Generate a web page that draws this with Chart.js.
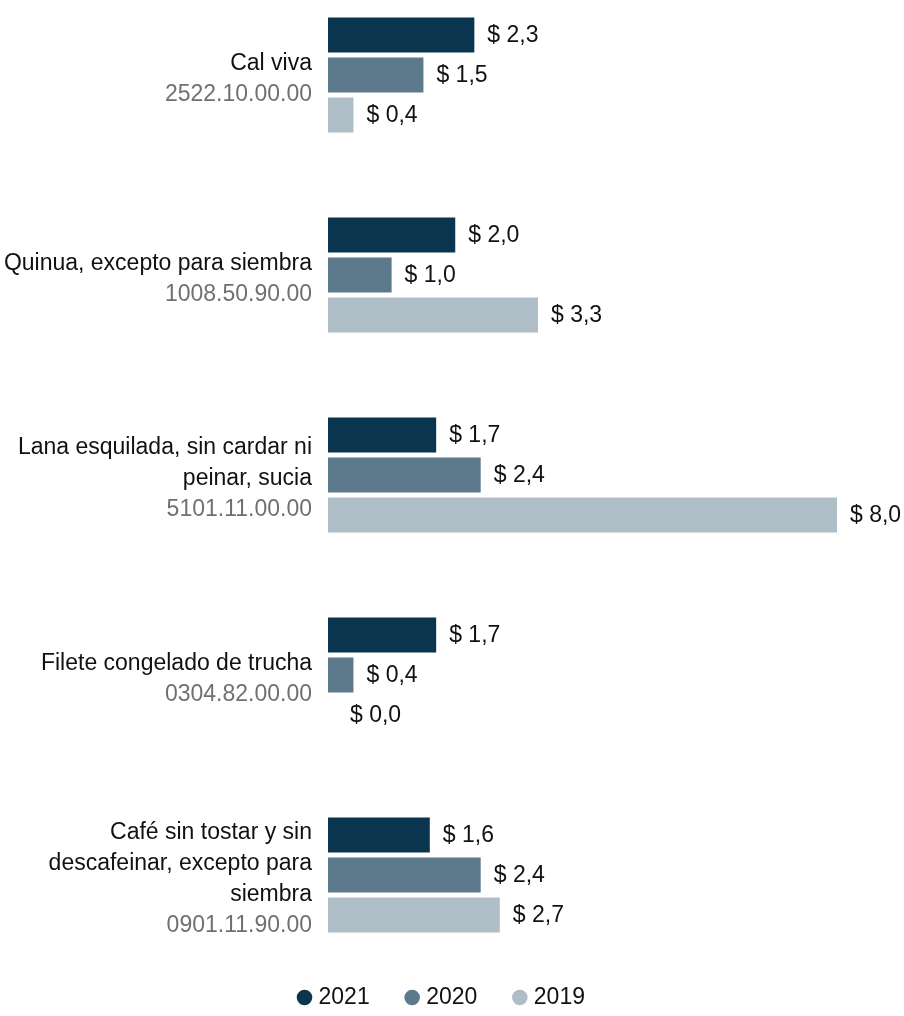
<!DOCTYPE html>
<html>
<head>
<meta charset="utf-8">
<script src="https://cdn.jsdelivr.net/npm/chart.js@4"></script>
<style>
  html, body { margin: 0; padding: 0; background: #ffffff; }
  #wrap { width: 904px; height: 1016px; }
</style>
</head>
<body>
<div id="wrap"><canvas id="c" width="904" height="1016"></canvas></div>
<script>
const categoryNames = [
  ['Cal viva'],
  ['Quinua, excepto para siembra'],
  ['Lana esquilada, sin cardar ni', 'peinar, sucia'],
  ['Filete congelado de trucha'],
  ['Café sin tostar y sin', 'descafeinar, excepto para', 'siembra']
];
const categoryCodes = ['2522.10.00.00', '1008.50.90.00', '5101.11.00.00', '0304.82.00.00', '0901.11.90.00'];
const seriesLabels = ['2021', '2020', '2019'];
const values2021 = [2.3, 2.0, 1.7, 1.7, 1.6];
const values2020 = [1.5, 1.0, 2.4, 0.4, 2.4];
const values2019 = [0.4, 3.3, 8.0, 0.0, 2.7];

const FONT = '"Liberation Sans", Arial, Helvetica, sans-serif';
const FS = 23;
const colors = ['#0b344f', '#5d7a8c', '#afbdc7'];

function fmt(v) { return '$ ' + v.toFixed(1).replace('.', ','); }

const labelsPlugin = {
  id: 'customLabels',
  afterDatasetsDraw(chart) {
    const ctx = chart.ctx;
    const y = chart.scales.y;
    ctx.save();
    ctx.font = FS + 'px ' + FONT;
    // category labels
    ctx.textAlign = 'right';
    ctx.textBaseline = 'middle';
    categoryNames.forEach((lines, i) => {
      const all = lines.concat([categoryCodes[i]]);
      const cy = y.getPixelForValue(i) + 4;
      const n = all.length;
      all.forEach((t, j) => {
        ctx.fillStyle = j === n - 1 ? '#707070' : '#111111';
        ctx.fillText(t, 312, cy + (j - (n - 1) / 2) * 31);
      });
    });
    // value labels
    ctx.textAlign = 'left';
    ctx.fillStyle = '#111111';
    chart.data.datasets.forEach((ds, di) => {
      const meta = chart.getDatasetMeta(di);
      meta.data.forEach((bar, i) => {
        const v = ds.data[i];
        const off = v === 0 ? 22 : 13;
        ctx.fillText(fmt(v), bar.x + off, bar.y + 1);
      });
    });
    ctx.restore();
  }
};

new Chart(document.getElementById('c'), {
  type: 'bar',
  data: {
    labels: categoryCodes,
    datasets: [
      { label: seriesLabels[0], data: values2021, backgroundColor: colors[0] },
      { label: seriesLabels[1], data: values2020, backgroundColor: colors[1] },
      { label: seriesLabels[2], data: values2019, backgroundColor: colors[2] }
    ]
  },
  options: {
    indexAxis: 'y',
    responsive: false,
    animation: false,
    devicePixelRatio: 1,
    layout: { padding: { top: 75, left: 0, right: 17, bottom: -3 } },
    datasets: { bar: { categoryPercentage: 0.6, barPercentage: 0.875, clip: false } },
    scales: {
      x: {
        min: 0, max: 8.786,
        display: true,
        ticks: { display: false },
        grid: { display: false },
        border: { display: false },
        afterFit(s) { s.height = 71; }
      },
      y: {
        offset: false,
        display: true,
        ticks: { display: false },
        grid: { display: false },
        border: { display: false },
        afterFit(s) { s.width = 328; }
      }
    },
    plugins: {
      tooltip: { enabled: false },
      legend: {
        position: 'bottom',
        labels: {
          usePointStyle: true,
          pointStyle: 'circle',
          boxWidth: 5,
          boxHeight: 11,
          padding: 40,
          color: '#111111',
          font: { family: FONT, size: FS }
        }
      }
    }
  },
  plugins: [labelsPlugin]
});
</script>
</body>
</html>
